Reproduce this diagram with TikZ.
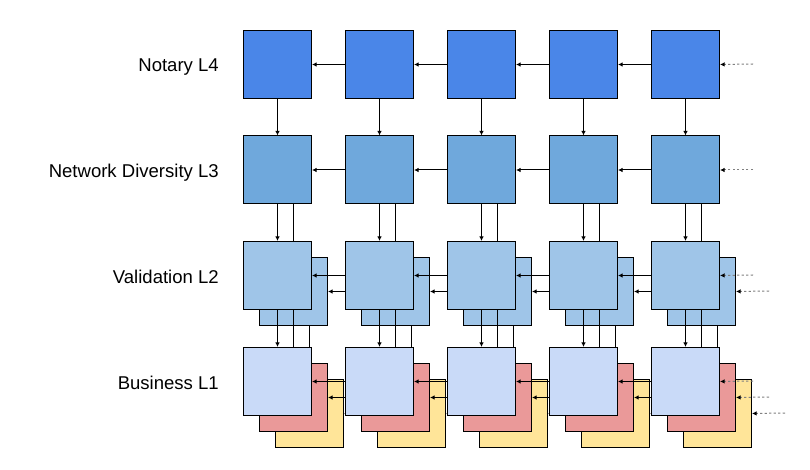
\documentclass[tikz,border=0pt]{standalone}
\usepackage{fontspec}
\setmainfont{Liberation Sans}
\usetikzlibrary{arrows.meta,positioning}
\definecolor{notaryfill}{HTML}{4A86E8}
\definecolor{netdivfill}{HTML}{6FA8DC}
\definecolor{validfill}{HTML}{9FC5E8}
\definecolor{bizfill}{HTML}{C9DAF8}
\definecolor{redfill}{HTML}{EA9999}
\definecolor{yellowfill}{HTML}{FFE599}
\tikzset{
  box/.style={draw=black, line width=0.75pt, minimum size=51pt, inner sep=0pt, anchor=north west},
  link/.style={-{Latex[length=3.5pt,width=3.5pt]}, line width=0.75pt},
  feed/.style={-{Latex[length=3.5pt,width=3.5pt,color=black]}, line width=0.75pt, gray, dash pattern=on 1.7pt off 1.7pt},
  layername/.style={font=\fontsize{13.9}{16}\selectfont, anchor=base east, inner sep=0pt}
}

\begin{document}
\begin{tikzpicture}[x=0.75pt,y=-0.75pt]
  \useasboundingbox (0,0) rectangle (810,470);
  % labels
  \node[layername] (lbl4) at (219,71.5) {Notary L4};
  \node[layername] (lbl3) at (219,177.5) {Network Diversity L3};
  \node[layername] (lbl2) at (219,283) {Validation L2};
  \node[layername] (lbl1) at (219,389) {Business L1};

  % notary L4
  \foreach \c/\x in {1/243,2/345,3/447,4/549,5/651}
    \node[box, fill=notaryfill] (n\c) at (\x,30) {};
  \foreach \c/\p in {2/1,3/2,4/3,5/4}
    \draw[link] (n\c.west) -- (n\p.east);
  \coordinate (nin) at (753,64);
  \draw[feed] (nin) -- (n5.east);

  % network diversity L3
  \foreach \c/\x in {1/243,2/345,3/447,4/549,5/651}
    \node[box, fill=netdivfill] (d\c) at (\x,135.5) {};
  \foreach \c/\p in {2/1,3/2,4/3,5/4}
    \draw[link] (d\c.west) -- (d\p.east);
  \coordinate (din) at (753,170);
  \draw[feed] (din) -- (d5.east);
  \foreach \c in {1,...,5}
    \draw[link] (n\c.south) -- (d\c.north);

  % validation L2, back copy
  \foreach \c/\x in {1/243,2/345,3/447,4/549,5/651}
    \node[box, fill=validfill] (vb\c) at (\x+16,257) {};
  \foreach \c/\p in {2/1,3/2,4/3,5/4}
    \draw[link] (vb\c.west) -- (vb\p.east);
  \coordinate (vbin) at (769,291);
  \draw[feed] (vbin) -- (vb5.east);
  \foreach \c in {1,...,5}
    \draw[link] (vb\c |- d\c.south) -- (vb\c.north);

  % validation L2, front
  \foreach \c/\x in {1/243,2/345,3/447,4/549,5/651}
    \node[box, fill=validfill] (va\c) at (\x,241) {};
  \foreach \c/\p in {2/1,3/2,4/3,5/4}
    \draw[link] (va\c.west) -- (va\p.east);
  \coordinate (vain) at (753,275);
  \draw[feed] (vain) -- (va5.east);
  \foreach \c in {1,...,5}
    \draw[link] (d\c.south) -- (va\c.north);

  % business L1, yellow copy
  \foreach \c/\x in {1/243,2/345,3/447,4/549,5/651}
    \node[box, fill=yellowfill] (bc\c) at (\x+32,379) {};
  \foreach \c/\p in {2/1,3/2,4/3,5/4}
    \draw[link] (bc\c.west) -- (bc\p.east);
  \coordinate (bcin) at (785,413);
  \draw[feed] (bcin) -- (bc5.east);
  \foreach \c in {1,...,5}
    \draw[link] (bc\c |- vb\c.south) -- (bc\c.north);

  % business L1, red copy
  \foreach \c/\x in {1/243,2/345,3/447,4/549,5/651}
    \node[box, fill=redfill] (bb\c) at (\x+16,363) {};
  \foreach \c/\p in {2/1,3/2,4/3,5/4}
    \draw[link] (bb\c.west) -- (bb\p.east);
  \coordinate (bbin) at (769,397);
  \draw[feed] (bbin) -- (bb5.east);
  \foreach \c in {1,...,5}
    \draw[link] (bb\c |- va\c.south) -- (bb\c.north);

  % business L1, front
  \foreach \c/\x in {1/243,2/345,3/447,4/549,5/651}
    \node[box, fill=bizfill] (ba\c) at (\x,347) {};
  \foreach \c/\p in {2/1,3/2,4/3,5/4}
    \draw[link] (ba\c.west) -- (ba\p.east);
  \coordinate (bain) at (753,381);
  \draw[feed] (bain) -- (ba5.east);
  \foreach \c in {1,...,5}
    \draw[link] (va\c.south) -- (ba\c.north);
\end{tikzpicture}
\end{document}
